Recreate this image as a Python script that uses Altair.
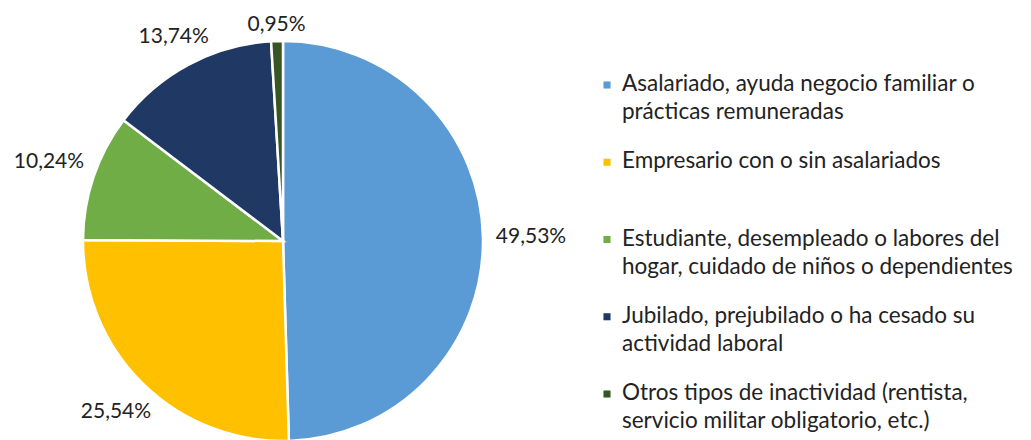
import altair as alt
import pandas as pd

categories = [
    "Asalariado, ayuda negocio familiar o\nprácticas remuneradas",
    "Empresario con o sin asalariados",
    "Estudiante, desempleado o labores del\nhogar, cuidado de niños o dependientes",
    "Jubilado, prejubilado o ha cesado su\nactividad laboral",
    "Otros tipos de inactividad (rentista,\nservicio militar obligatorio, etc.)",
]
values = [49.53, 25.54, 10.24, 13.74, 0.95]
colors = ["#5B9BD5", "#FFC000", "#70AD47", "#203864", "#375623"]

df = pd.DataFrame({"cat": categories, "value": values, "idx": list(range(len(values)))})

FONT = "Lato"
CX, CY, R = 275, 233, 200

color = alt.Color("cat:N", scale=alt.Scale(domain=categories, range=colors), legend=None)

base = alt.Chart(df)

pie = base.mark_arc(outerRadius=R, stroke="white", strokeWidth=2.5).encode(
    theta=alt.Theta("value:Q", stack=True),
    color=color,
    order=alt.Order("idx:Q"),
    x=alt.value(CX),
    y=alt.value(CY),
)

# label distance: keep the label box just outside the pie (Excel "outside end")
pct = base.transform_joinaggregate(
    total="sum(value)"
).transform_window(
    cum="sum(value)", sort=[alt.SortField("idx")], frame=[None, 0]
).transform_calculate(
    ang="(datum.cum - datum.value / 2) / datum.total * 2 * PI",
    rr=f"{R + 12} + 36 * abs(sin(datum.ang)) + 3 * abs(cos(datum.ang))",
    lab="replace(format(datum.value, '.2f'), '.', ',') + '%'",
).mark_text(font=FONT, fontSize=21, color="#222222").encode(
    theta=alt.Theta("ang:Q", scale=None, stack=None),
    radius=alt.Radius("rr:Q", scale=None),
    text="lab:N",
    x=alt.value(CX),
    y=alt.value(CY),
)

yscale = alt.Scale(domain=categories, range=[77, 386], padding=0)

leg_sym = base.mark_square(size=50, opacity=1).encode(
    y=alt.Y("cat:N", scale=yscale, axis=None),
    x=alt.value(599),
    color=color,
)

leg_txt = base.mark_text(
    align="left", baseline="top", dy=-12, font=FONT, fontSize=22.5,
    lineBreak="\n", lineHeight=28, color="#222222"
).encode(
    y=alt.Y("cat:N", scale=yscale, axis=None),
    x=alt.value(614),
    text="cat:N",
)

chart = alt.layer(pie, pct, leg_sym, leg_txt).properties(
    width=1015, height=432, padding=0, background="white",
    autosize=alt.AutoSizeParams(type="none"),
).configure_view(strokeWidth=0, stroke="transparent")

chart.save("out.html", embed_options={"renderer": "svg", "actions": False})
